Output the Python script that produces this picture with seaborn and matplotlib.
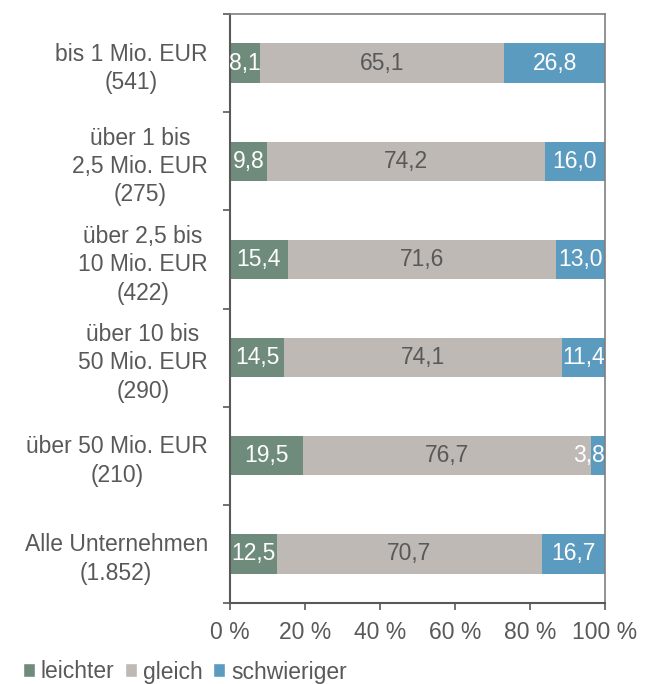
#!/usr/bin/env python3
import pandas as pd
import numpy as np
import matplotlib
matplotlib.use("Agg")
import matplotlib.pyplot as plt
import seaborn as sns
from matplotlib.patches import Patch

categories = [
    "bis 1 Mio. EUR\n(541)",
    "über 1 bis\n2,5 Mio. EUR\n(275)",
    "über 2,5 bis\n10 Mio. EUR\n(422)",
    "über 10 bis\n50 Mio. EUR\n(290)",
    "über 50 Mio. EUR\n(210)",
    "Alle Unternehmen\n(1.852)",
]
leichter = [8.1, 9.8, 15.4, 14.5, 19.5, 12.5]
gleich = [65.1, 74.2, 71.6, 74.1, 76.7, 70.7]
schwieriger = [26.8, 16.0, 13.0, 11.4, 3.8, 16.7]
series_names = ["leichter", "gleich", "schwieriger"]
xticks = [0, 20, 40, 60, 80, 100]

colors = ["#6F8B7C", "#BEB9B5", "#5B9BBF"]
txt = "#595959"
fs = 16.5


def main():
    sns.set_style("white")
    plt.rcParams["font.family"] = ["Liberation Sans", "DejaVu Sans"]

    df = pd.DataFrame({"cat": categories, "leichter": leichter,
                       "gleich": gleich, "schwieriger": schwieriger})
    df["c1"] = df["leichter"]
    df["c2"] = df["leichter"] + df["gleich"]
    df["c3"] = df["c2"] + df["schwieriger"]

    fig = plt.figure(figsize=(6.5, 6.84), dpi=100)
    ax = fig.add_axes([230 / 650, 1 - 603 / 684, 375 / 650, 589 / 684])

    # stacked bars: draw the longest first, then overlay
    for col, c in zip(["c3", "c2", "c1"], colors[::-1]):
        sns.barplot(data=df, x=col, y="cat", color=c, orient="h",
                    width=0.4, saturation=1, ax=ax, linewidth=0)

    # value labels
    for i in range(len(categories)):
        left = 0
        for name, c in zip(series_names, colors):
            v = df.loc[i, name]
            tc = txt if name == "gleich" else "white"
            s = f"{v:.1f}".replace(".", ",")
            if v < 6:
                ax.text(100, i, s, ha="right", va="center", color=tc, fontsize=fs)
            else:
                ax.text(left + v / 2, i, s, ha="center", va="center", color=tc, fontsize=fs)
            left += v

    ax.set_xlim(0, 100)
    ax.set_ylim(5.5, -0.5)
    ax.set_xticks(xticks)
    ax.set_xticklabels([f"{t} %" for t in xticks])
    ax.set_xlabel("")
    ax.set_ylabel("")
    ax.set_yticks(range(len(categories)))
    ax.set_yticklabels(categories, multialignment="center", linespacing=1.3)
    ax.set_yticks(np.arange(-0.5, 6, 1), minor=True)
    ax.tick_params(axis="y", which="major", length=0, pad=16, labelsize=fs, labelcolor=txt)
    ax.tick_params(axis="y", which="minor", length=5, width=1.2, color=txt, direction="out", left=True)
    ax.tick_params(axis="x", length=5, width=1.2, color=txt, direction="out", bottom=True,
                   pad=8, labelsize=fs, labelcolor=txt)

    for s in ["left", "bottom"]:
        ax.spines[s].set_color(txt)
        ax.spines[s].set_linewidth(1.5)
    for s in ["top", "right"]:
        ax.spines[s].set_color("#7F7F7F")
        ax.spines[s].set_linewidth(1.2)

    handles = [Patch(facecolor=c, label=n) for c, n in zip(colors, series_names)]
    fig.legend(handles=handles, loc="center left", bbox_to_anchor=(0.018, 1 - 672 / 684),
               ncol=3, frameon=False, fontsize=fs, handlelength=0.5, handleheight=0.55,
               handletextpad=0.26, columnspacing=0.48, borderpad=0, labelcolor=txt)

    fig.savefig("out.png", dpi=100)


if __name__ == "__main__":
    main()
